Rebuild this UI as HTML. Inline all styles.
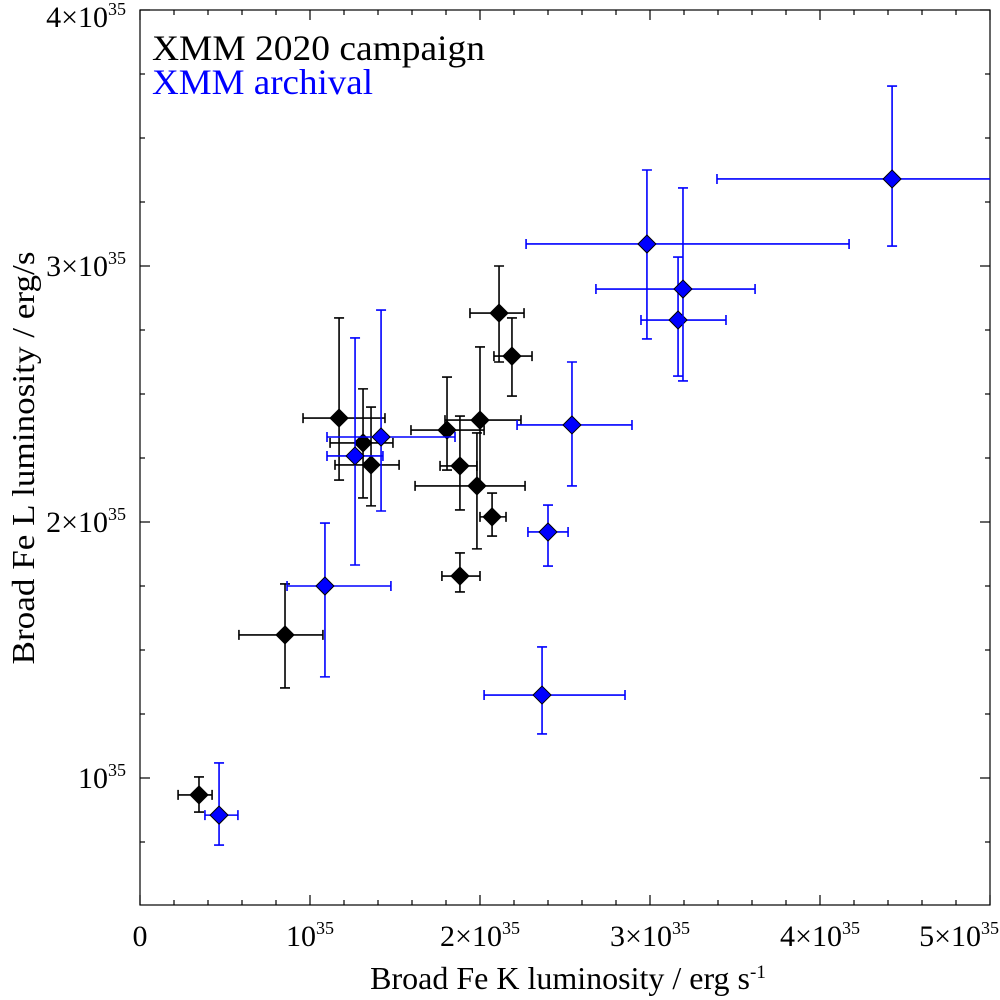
<!DOCTYPE html>
<html><head><meta charset="utf-8">
<style>
html,body{margin:0;padding:0;background:#fff;}
svg{display:block;font-family:"Liberation Serif",serif;}
</style></head>
<body>
<svg id="chart" width="1000" height="1000" viewBox="0 0 1000 1000">
<rect x="140" y="10" width="850" height="895" fill="none" stroke="#000" stroke-width="1.2"/>
<g id="ticks"></g>
<g id="marks"></g>
<text x="152" y="60" font-size="36" textLength="333" lengthAdjust="spacingAndGlyphs" fill="#000">XMM 2020 campaign</text>
<text x="152" y="94" font-size="36" textLength="221" lengthAdjust="spacingAndGlyphs" fill="#0000ff">XMM archival</text>
<text x="568" y="989" font-size="32" text-anchor="middle">Broad Fe K luminosity / erg s<tspan dy="-11" font-size="19">-1</tspan></text>
<text transform="translate(34,458) rotate(-90)" font-size="32" text-anchor="middle" textLength="413" lengthAdjust="spacingAndGlyphs">Broad Fe L luminosity / erg/s</text>
</svg>
<script>
// values in units of 1e35 erg/s
const blackX   = [0.347,0.853,1.171,1.312,1.359,1.806,1.882,2.0,1.982,1.882,2.071,2.112,2.188];
const blackXlo = [0.224,0.582,0.959,1.118,1.147,1.594,1.765,1.794,1.618,1.776,2.0,1.941,2.082];
const blackXhi = [0.424,1.076,1.441,1.488,1.524,2.024,1.982,2.241,2.265,2.0,2.153,2.259,2.306];
const blackY   = [0.934,1.559,2.406,2.309,2.223,2.359,2.219,2.398,2.141,1.789,2.02,2.816,2.648];
const blackYlo = [0.867,1.352,2.164,2.094,2.063,2.203,2.047,2.137,1.895,1.727,1.945,2.625,2.492];
const blackYhi = [1.004,1.758,2.797,2.520,2.449,2.566,2.414,2.684,2.348,1.879,2.113,3.0,2.797];
const blueX    = [0.465,1.088,1.265,1.418,2.365,2.4,2.541,2.982,3.165,3.194,4.424];
const blueXlo  = [0.382,0.865,1.1,1.1,2.024,2.282,2.218,2.271,2.947,2.682,3.394];
const blueXhi  = [0.576,1.476,1.429,1.853,2.853,2.518,2.894,4.171,3.447,3.618,5.3];
const blueY    = [0.855,1.75,2.258,2.332,1.324,1.961,2.379,3.086,2.789,2.91,3.34];
const blueYlo  = [0.738,1.395,1.832,2.043,1.172,1.828,2.141,2.715,2.570,2.551,3.078];
const blueYhi  = [1.059,1.996,2.719,2.828,1.512,2.066,2.625,3.375,3.035,3.305,3.703];
const xTickVals = [0,1,2,3,4,5];
const xTickLabels = ["0","10","2×10","3×10","4×10","5×10"];
const yTickVals = [1,2,3,4];
const yTickLabels = ["10","2×10","3×10","4×10"];

const NS="http://www.w3.org/2000/svg";
const X0=140,X1=990,Y0=905,Y1=10;
const xs=v=>X0+v*170;
const ys=v=>1034-v*256;
function mk(tag,attrs,parent){const e=document.createElementNS(NS,tag);for(const k in attrs)e.setAttribute(k,attrs[k]);parent.appendChild(e);return e;}
const ticks=document.getElementById('ticks');
for(let i=0;i<=25;i++){
  const v=i*0.2, px=xs(v), major=(i%5===0), L=major?10:5;
  const t1=mk('line',{x1:px,y1:Y0,x2:px,y2:Y0-L,stroke:'#000','stroke-width':1.2},ticks);
  
  
  const t2=mk('line',{x1:px,y1:Y1,x2:px,y2:Y1+L,stroke:'#000','stroke-width':1.2},ticks);
  
  
}
for(let i=3;i<=16;i++){
  const v=i*0.25, py=ys(v); if(py>Y0||py<Y1) continue;
  const major=(i%4===0), L=major?10:5;
  const t1=mk('line',{x1:X0,y1:py,x2:X0+L,y2:py,stroke:'#000','stroke-width':1.2},ticks);
  
  
  const t2=mk('line',{x1:X1,y1:py,x2:X1-L,y2:py,stroke:'#000','stroke-width':1.2},ticks);
  
  
}
xTickVals.forEach((v,i)=>{
  const t=mk('text',{x:xs(v),y:946,'font-size':30,'text-anchor':'middle'},ticks);
  
  
  t.textContent=xTickLabels[i];
  if(v>0){const s=mk('tspan',{dy:-12,'font-size':18},t);s.textContent='35';}
  if(v===5){t.setAttribute('x',999);t.setAttribute('text-anchor','end');}
});
yTickVals.forEach((v,i)=>{
  const t=mk('text',{x:126,y:Math.max(ys(v)+10,27),'font-size':30,'text-anchor':'end'},ticks);
  
  
  t.textContent=yTickLabels[i];
  const s=mk('tspan',{dy:-12,'font-size':18},t);s.textContent='35';
});
const marks=document.getElementById('marks');
function series(X,Xlo,Xhi,Y,Ylo,Yhi,color,name){
  const g=mk('g',{},marks);
  
  
  X.forEach((x,i)=>{
    const cx=xs(x),cy=ys(Y[i]),xl=xs(Xlo[i]),xh=Math.min(xs(Xhi[i]),X1),yl=ys(Ylo[i]),yh=ys(Yhi[i]);
    const c=5, sw=1.6;
    const eb=mk('path',{d:`M${xl},${cy}H${xh}M${cx},${yl}V${yh}M${xl},${cy-c}V${cy+c}`+(xs(Xhi[i])<=X1?`M${xh},${cy-c}V${cy+c}`:'')+`M${cx-c},${yl}H${cx+c}M${cx-c},${yh}H${cx+c}`,stroke:color,'stroke-width':sw,fill:'none'},g);
    
    
    const r=9;
    const d=mk('path',{d:`M${cx},${cy-r}L${cx+r},${cy}L${cx},${cy+r}L${cx-r},${cy}Z`,fill:color,stroke:'#000','stroke-width':1},g);
    
    
  });
}
series(blackX,blackXlo,blackXhi,blackY,blackYlo,blackYhi,'#000','campaign');
series(blueX,blueXlo,blueXhi,blueY,blueYlo,blueYhi,'#0000ff','archival');
</script>
</body></html>
